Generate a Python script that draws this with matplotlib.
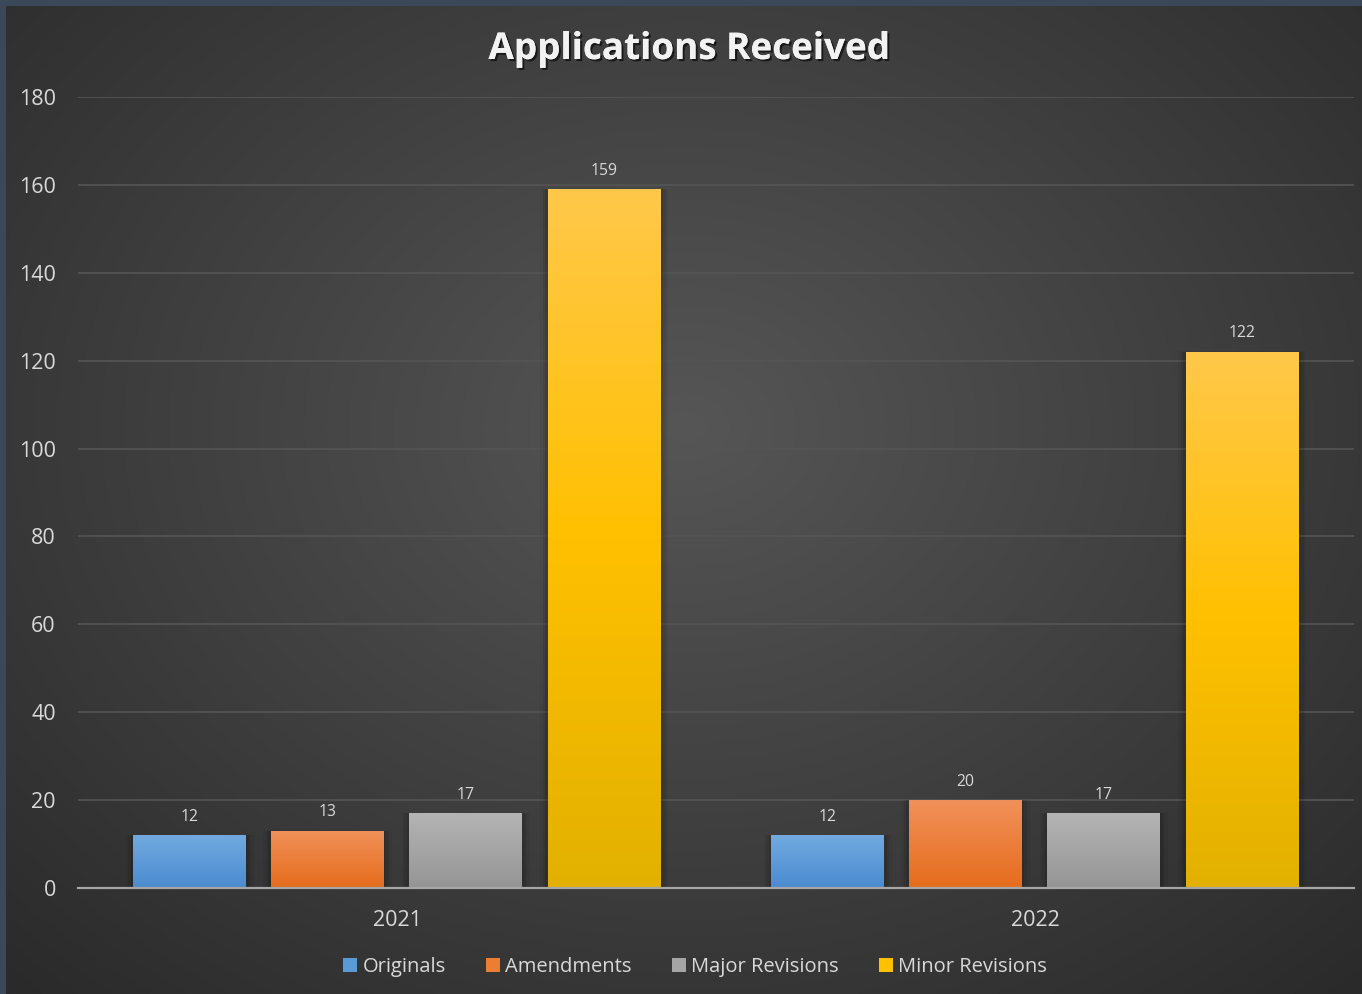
import matplotlib
matplotlib.use("Agg")
import matplotlib.pyplot as plt
import matplotlib.patheffects as PathEffects
from matplotlib.colors import LinearSegmentedColormap
from matplotlib.patches import Patch
import numpy as np

# --- data ---
years = ["2021", "2022"]
series = ["Originals", "Amendments", "Major Revisions", "Minor Revisions"]
originals = [12, 12]
amendments = [13, 20]
major_revisions = [17, 17]
minor_revisions = [159, 122]
values = [originals, amendments, major_revisions, minor_revisions]

# gradient colours per series (top, bottom)
grad = {
    "Originals": ["#72aadf", "#4a8bd0"],
    "Amendments": ["#f1915a", "#e56c1c"],
    "Major Revisions": ["#b4b4b4", "#959595"],
    "Minor Revisions": ["#ffc84a", "#ffc000", "#e2b100"],
}
solid = {"Originals": "#5b9bd5", "Amendments": "#ed7d31",
         "Major Revisions": "#a5a5a5", "Minor Revisions": "#ffc000"}

plt.rcParams["font.family"] = ["Open Sans", "DejaVu Sans"]

W, H = 1362, 994
fig = plt.figure(figsize=(W / 100, H / 100), dpi=100)
fig.patch.set_facecolor("#3b4859")

# radial gradient background (leave a 6 px border on top and left)
bg_ax = fig.add_axes([6 / W, 0, 1 - 6 / W, 1 - 6 / H])
bg_ax.set_axis_off()
yy, xx = np.mgrid[0:400, 0:550]
cx, cy = 275, 170
r = np.sqrt(((xx - cx) / 550) ** 2 + ((yy - cy) / 430) ** 2)
r = np.clip(r / 0.78, 0, 1)
inner, outer = np.array([0x56, 0x56, 0x56]), np.array([0x27, 0x27, 0x27])
img = inner[None, None, :] * (1 - r[..., None]) + outer[None, None, :] * r[..., None]
bg_ax.imshow(img.astype(np.uint8), aspect="auto", extent=[0, 1, 0, 1],
             interpolation="bilinear")

ax = fig.add_axes([78 / W, 1 - 888 / H, (1354 - 78) / W, (888 - 97) / H])
ax.set_facecolor("none")

x = np.arange(len(years))
width = 0.177
offsets = [-0.325, -0.109, 0.108, 0.325]

for name, vals, off in zip(series, values, offsets):
    cmap = LinearSegmentedColormap.from_list(name, grad[name][::-1])
    bars = ax.bar(x + off, vals, width, color=solid[name], zorder=3,
                  linewidth=0)
    for b, v in zip(bars, vals):
        bx, by = b.get_x(), b.get_y()
        bw, bh = b.get_width(), b.get_height()
        # soft shadow
        for k, a in enumerate([0.10, 0.07, 0.04]):
            d = 0.004 * (k + 1)
            ax.add_patch(plt.Rectangle((bx - d, by), bw + 2 * d, bh + d * 10,
                                       color="black", alpha=a, zorder=2,
                                       linewidth=0))
        grad_img = np.linspace(0, 1, 256).reshape(-1, 1)
        im = ax.imshow(grad_img, cmap=cmap, aspect="auto", origin="lower",
                       extent=[bx, bx + bw, by, by + bh], zorder=4,
                       interpolation="bilinear")
        im.set_clip_path(b)
        ax.text(bx + bw / 2, v + 2.4, str(v), ha="center", va="bottom",
                fontsize=11.3, color="#d9d9d9", zorder=6)

ax.set_xlim(-0.5, 1.5)
ax.set_ylim(0, 180)
ax.set_yticks(range(0, 181, 20))
ax.set_xticks(x)
ax.set_xticklabels(years)
ax.yaxis.grid(True, color="#555555", linewidth=1.2, zorder=0)
ax.set_axisbelow(True)
for s in ["top", "right", "left"]:
    ax.spines[s].set_visible(False)
ax.spines["bottom"].set_color("#a6a6a6")
ax.spines["bottom"].set_linewidth(1.6)
ax.spines["bottom"].set_zorder(5)
ax.tick_params(axis="both", length=0, colors="#d9d9d9", labelsize=15.5)
ax.tick_params(axis="y", pad=16)
ax.tick_params(axis="x", pad=16)

fig.text(689 / W, 1 - 49 / H, "Applications Received", ha="center",
         va="center", fontsize=26.5, fontweight="bold", color="#f2f2f2",
         path_effects=[PathEffects.withSimplePatchShadow(
             offset=(1.5, -1.5), shadow_rgbFace="black", alpha=0.6),
             PathEffects.Normal()])

handles = [Patch(facecolor=solid[n], edgecolor="none", label=n) for n in series]
leg = fig.legend(handles=handles, loc="center", ncol=4,
                 bbox_to_anchor=(695 / W, 1 - 967 / H), frameon=False,
                 fontsize=14.5, labelcolor="#d9d9d9", handlelength=0.7,
                 handleheight=0.7, handletextpad=0.25, columnspacing=2.0)

fig.savefig("out.png", dpi=100)
